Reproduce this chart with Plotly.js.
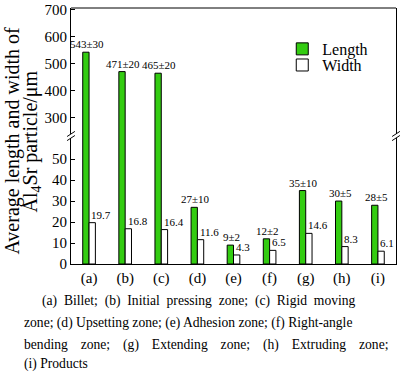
<!DOCTYPE html>
<html>
<head>
<meta charset="utf-8">
<script src="https://cdn.plot.ly/plotly-3.0.1.min.js"></script>
<style>html,body{margin:0;padding:0;background:#fff;}#chart{width:400px;height:380px;}</style>
</head>
<body>
<div id="chart"></div>
<script>
const categories = ['(a)', '(b)', '(c)', '(d)', '(e)', '(f)', '(g)', '(h)', '(i)'];
const lengthValues = [543, 471, 465, 27, 9, 12, 35, 30, 28];
const lengthErrors = [30, 20, 20, 10, 2, 2, 10, 5, 5];
const widthValues = [19.7, 16.8, 16.4, 11.6, 4.3, 6.5, 14.6, 8.3, 6.1];
const lowerTicks = [0, 10, 20, 30, 40, 50];
const upperTicks = [300, 400, 500, 600, 700];
const captionLines = [
  '(a) Billet; (b) Initial pressing zone; (c) Rigid moving',
  'zone; (d) Upsetting zone; (e) Adhesion zone; (f) Right-angle',
  'bending zone; (g) Extending zone; (h) Extruding zone;',
  '(i) Products'
];
// extra spacing per word gap to imitate the justified caption
const captionPad = ['\u00a0', '', '\u00a0\u00a0\u2009', ''];

const FONT = 'Liberation Serif';
const GREEN = '#33cc11';
const LOWER_MAX = 61;
const UPPER_MIN = 232;
const BREAK = 0.5;
const BW = 0.175;

const traces = [
  {type: 'bar', name: 'Length', x: categories, y: lengthValues, xaxis: 'x', yaxis: 'y',
   width: BW, offset: -BW, legend: 'legend', marker: {color: GREEN, line: {color: '#000', width: 1}}},
  {type: 'bar', name: 'Width', x: categories, y: widthValues, xaxis: 'x', yaxis: 'y',
   width: BW, offset: 0, legend: 'legend2', marker: {color: '#fff', line: {color: '#000', width: 1}}},
  {type: 'bar', name: 'Length', x: categories, y: lengthValues, xaxis: 'x', yaxis: 'y2',
   width: BW, offset: -BW, showlegend: false, marker: {color: GREEN, line: {color: '#000', width: 1}}}
];

const annotations = [];
categories.forEach((c, i) => {
  const v = lengthValues[i];
  annotations.push({x: i - 0.05, y: v, xref: 'x', yref: v > LOWER_MAX ? 'y2' : 'y',
    text: v + '±' + lengthErrors[i], showarrow: false, xanchor: 'center', yanchor: 'bottom',
    font: {family: FONT, size: 11, color: '#000'}});
  annotations.push({x: i + 0.01, y: widthValues[i], xref: 'x', yref: 'y',
    text: widthValues[i].toFixed(1), showarrow: false, xanchor: 'left', yanchor: 'bottom',
    font: {family: FONT, size: 11, color: '#000'}});
});
annotations.push({xref: 'paper', yref: 'paper', x: -0.18, y: 0.48, xanchor: 'center', yanchor: 'middle',
  textangle: -90, showarrow: false, text: 'Average length and width of',
  font: {family: FONT, size: 20, color: '#000'}});
annotations.push({xref: 'paper', yref: 'paper', x: -0.122, y: 0.48, xanchor: 'center', yanchor: 'middle',
  textangle: -90, showarrow: false, text: 'Al<sub>4</sub>Sr particle/μm',
  font: {family: FONT, size: 20, color: '#000'}});
const capX = [-0.095, -0.151, -0.151, -0.151];
const capY = [-0.145, -0.23, -0.316, -0.39];
captionLines.forEach((t, k) => {
  const txt = t.split(' ').join(' ' + captionPad[k]);
  annotations.push({xref: 'paper', yref: 'paper', x: capX[k], y: capY[k], xanchor: 'left', yanchor: 'middle',
    showarrow: false, text: txt, font: {family: FONT, size: 13.6, color: '#000'}});
});

const shapes = [
  {type: 'line', xref: 'paper', yref: 'paper', x0: 0, x1: 1, y0: 1, y1: 1, line: {color: '#000', width: 1}}
];
[0, 1].forEach(px => {
  shapes.push({type: 'rect', xref: 'paper', yref: 'paper', x0: px - 0.006, x1: px + 0.006,
    y0: BREAK - 0.008, y1: BREAK + 0.008, fillcolor: '#fff', line: {width: 0}});
  shapes.push({type: 'line', xref: 'paper', yref: 'paper', x0: px - 0.012, x1: px + 0.012,
    y0: BREAK - 0.018, y1: BREAK + 0.002, line: {color: '#000', width: 1}});
  shapes.push({type: 'line', xref: 'paper', yref: 'paper', x0: px - 0.012, x1: px + 0.012,
    y0: BREAK - 0.002, y1: BREAK + 0.018, line: {color: '#000', width: 1}});
});

const axisCommon = {showgrid: false, zeroline: false, showline: true, linecolor: '#000', linewidth: 1,
  mirror: true, ticks: 'inside', ticklen: 4, tickcolor: '#000', ticklabeloverflow: 'allow',
  tickfont: {family: FONT, size: 15, color: '#000'}};

const legendCommon = {xanchor: 'left', yanchor: 'middle', bgcolor: 'rgba(0,0,0,0)',
  font: {family: FONT, size: 16, color: '#000'}, itemwidth: 30};

const layout = {
  width: 400, height: 380,
  margin: {l: 71, r: 4, t: 8, b: 116},
  paper_bgcolor: '#fff', plot_bgcolor: '#fff',
  font: {family: FONT, color: '#000'},
  barmode: 'overlay',
  showlegend: true,
  legend: Object.assign({x: 0.65, y: 0.84}, legendCommon),
  legend2: Object.assign({x: 0.65, y: 0.777}, legendCommon),
  xaxis: {type: 'category', range: [-0.5, 8.5], showgrid: false, zeroline: false, showline: true,
    linecolor: '#000', linewidth: 1, ticks: '', anchor: 'y',
    tickfont: {family: FONT, size: 15, color: '#000'}},
  yaxis: Object.assign({}, axisCommon, {domain: [0, BREAK], range: [0, LOWER_MAX],
    tickvals: lowerTicks, anchor: 'x'}),
  yaxis2: Object.assign({}, axisCommon, {domain: [BREAK, 1], range: [UPPER_MIN, 707],
    tickvals: upperTicks, anchor: 'x'}),
  annotations: annotations,
  shapes: shapes
};

Plotly.newPlot('chart', traces, layout, {displayModeBar: false, staticPlot: true});
</script>
</body>
</html>
